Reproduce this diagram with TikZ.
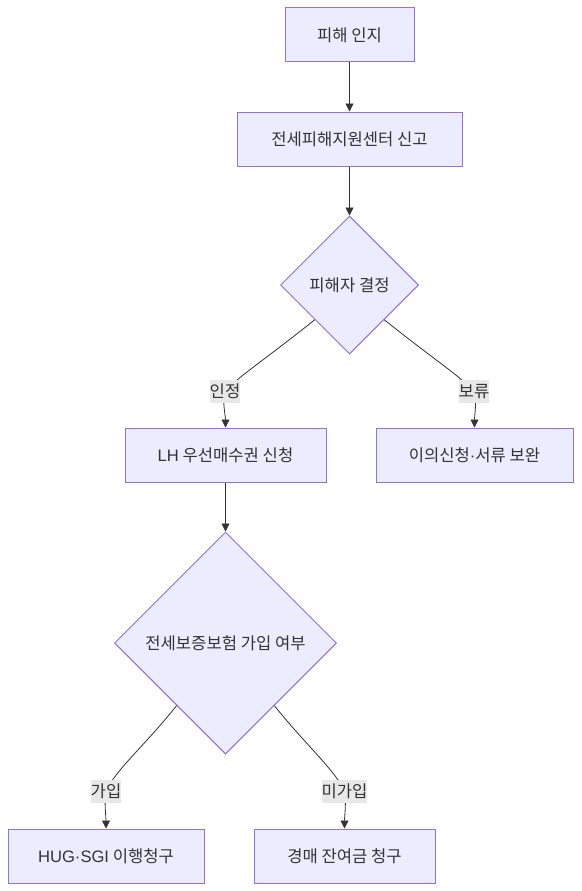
\documentclass[tikz,border=0pt]{standalone}
\usepackage{fontspec}
\setmainfont{Noto Sans CJK KR}
\newfontfamily\latinfont{Liberation Sans}
\usetikzlibrary{shapes.geometric,arrows.meta}

\definecolor{boxfill}{HTML}{ECECFF}
\definecolor{boxline}{HTML}{9370DB}
\definecolor{ink}{HTML}{333333}
\definecolor{lblfill}{HTML}{E8E8E8}

\begin{document}
\begin{tikzpicture}[x=1pt, y=-1pt,
	box/.style={draw=boxline, fill=boxfill, line width=1pt, minimum height=54pt, inner sep=0pt, text=ink},
	choice/.style={diamond, shape aspect=1, draw=boxline, fill=boxfill, line width=1pt, inner sep=0pt, text=ink},
	flow/.style={draw=ink, line width=0.8pt, -{Triangle[length=8pt, width=8pt]}},
	lbl/.style={fill=lblfill, inner xsep=0pt, inner ysep=0pt, minimum height=23pt, text=ink}
]

\def\width{581}
\def\height{891}

\fontsize{16.6pt}{19pt}\selectfont
\path [use as bounding box] (0,0) rectangle (\width,\height);

% NODES
\node [box, minimum width=129pt] (aware) at (349.5,35) {피해 인지};
\node [box, minimum width=225pt] (report) at (349.5,139) {전세피해지원센터 신고};
\node [choice, minimum width=138pt, minimum height=138pt] (decide) at (349.5,285) {피해자 결정};
\node [box, minimum width=201pt] (lh) at (225.5,455) {{\latinfont LH} 우선매수권 신청};
\node [box, minimum width=197pt] (appeal) at (474.5,455) {이의신청{\latinfont ·}서류 보완};
\node [choice, minimum width=222pt, minimum height=222pt] (insure) at (225.5,643) {전세보증보험 가입 여부};
\node [box, minimum width=196pt] (hug) at (106,856) {{\latinfont HUG·SGI} 이행청구};
\node [box, minimum width=181pt] (auction) at (344.5,856) {경매 잔여금 청구};

% LABEL POINTS
\coordinate (yes) at (225,391.5);
\coordinate (hold) at (474,391.5);
\coordinate (join) at (106,791.5);
\coordinate (nojoin) at (344.5,791.5);

% EDGES
\draw [flow] (aware) -- (report);
\draw [flow] (report) -- (decide);
\draw [flow] (decide.south west) .. controls +(-50,40) and +(12,-14) .. (yes)
	.. controls +(-3,10) and +(0,-12) .. (lh.north);
\draw [flow] (decide.south east) .. controls +(50,40) and +(-12,-14) .. (hold)
	.. controls +(3,10) and +(0,-12) .. (appeal.north);
\draw [flow] (lh) -- (insure);
\draw [flow] (insure.-128) .. controls +(-30,38) and +(8,-20) .. (join)
	.. controls +(-2,10) and +(0,-12) .. (hug.north);
\draw [flow] (insure.-52) .. controls +(30,38) and +(-8,-20) .. (nojoin)
	.. controls +(2,10) and +(0,-12) .. (auction.north);

% LABELS
\node [lbl] (yesl) at (yes) {인정};
\node [lbl] (holdl) at (hold) {보류};
\node [lbl] (joinl) at (join) {가입};
\node [lbl] (nojoinl) at (nojoin) {미가입};

\end{tikzpicture}
\end{document}
